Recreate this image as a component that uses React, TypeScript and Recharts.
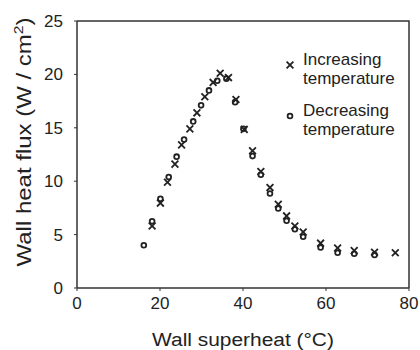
import { Label, Legend, Scatter, ScatterChart, XAxis, YAxis } from 'recharts';

const FONT = '"Liberation Sans", Arial, Helvetica, sans-serif';
const INK = '#222';

// wall superheat (°C) / wall heat flux (W/cm2)
const incX = [18.1, 20.1, 21.8, 23.6, 25.2, 27.2, 28.9, 30.8, 32.8, 34.5, 36.5, 38.3, 40.3, 42.3, 44.3, 46.5, 48.5, 50.5, 52.5, 54.5, 58.7, 62.8, 66.8, 71.7, 76.7];
const incY = [5.8, 7.95, 9.9, 11.6, 13.4, 14.9, 16.4, 17.9, 19.25, 20.1, 19.7, 17.65, 14.85, 12.85, 10.9, 9.4, 7.85, 6.75, 5.8, 5.25, 4.2, 3.75, 3.5, 3.35, 3.3];

const decX = [16.1, 18.1, 20.1, 22.1, 24.0, 25.8, 28.0, 29.9, 31.8, 33.8, 36.0, 38.1, 40.1, 42.3, 44.3, 46.5, 48.5, 50.5, 52.5, 54.5, 58.7, 62.8, 66.8, 71.7];
const decY = [4.0, 6.25, 8.35, 10.4, 12.3, 13.9, 15.6, 17.1, 18.5, 19.4, 19.6, 17.4, 14.9, 12.35, 10.6, 8.85, 7.45, 6.3, 5.5, 4.8, 3.8, 3.3, 3.2, 3.1];

const xTicks = [0, 20, 40, 60, 80];
const yTicks = [0, 5, 10, 15, 20, 25];
const legendLines = [
  ['Increasing', 'temperature'],
  ['Decreasing', 'temperature'],
];

const incData = incX.map((x, i) => ({ x, y: incY[i] }));
const decData = decX.map((x, i) => ({ x, y: decY[i] }));

// legend box sits at (280, 44) in chart coords; plot box is 77..409 x 21..288
const LEG_LEFT = 280;
const LEG_TOP = 44;

function CrossMark({ cx, cy }: { cx?: number; cy?: number }) {
  if (cx == null || cy == null) return null;
  const r = 3.4;
  return (
    <path
      d={`M${cx - r},${cy - r}L${cx + r},${cy + r}M${cx - r},${cy + r}L${cx + r},${cy - r}`}
      stroke={INK}
      strokeWidth={1.8}
      fill="none"
    />
  );
}

function RingMark({ cx, cy }: { cx?: number; cy?: number }) {
  if (cx == null || cy == null) return null;
  return <circle cx={cx} cy={cy} r={2.4} fill="none" stroke={INK} strokeWidth={1.8} />;
}

function LegendBox() {
  const l = 77 - LEG_LEFT;
  const r = 409 - LEG_LEFT;
  const t = 21 - LEG_TOP;
  const b = 288 - LEG_TOP;
  return (
    <svg width={140} height={100} style={{ display: 'block', overflow: 'visible' }}>
      {/* top and right edges of the plot box */}
      <polyline points={`${l},${t} ${r},${t} ${r},${b}`} fill="none" stroke="#333" strokeWidth={1.5} />
      {legendLines.map((lines, i) => {
        const base = 21 + i * 51;
        return (
          <g key={i}>
            {i === 0 ? <CrossMark cx={10} cy={base} /> : <RingMark cx={10} cy={base} />}
            <text x={23} y={base} fontSize={17} fontFamily={FONT} fill={INK}>
              {lines[0]}
            </text>
            <text x={23} y={base + 19} fontSize={17} fontFamily={FONT} fill={INK}>
              {lines[1]}
            </text>
          </g>
        );
      })}
    </svg>
  );
}

function XTitle(props: any) {
  const vb = props.viewBox || {};
  const cx = vb.x + vb.width / 2;
  const y = vb.y + 58;
  return (
    <text
      transform={`translate(${cx},${y}) scale(1.1,1)`}
      textAnchor="middle"
      fontSize={19}
      fontFamily={FONT}
      fill={INK}
    >
      Wall superheat (°C)
    </text>
  );
}

function YTitle() {
  return (
    <text
      transform="translate(31,142) rotate(-90) scale(1.2,1)"
      textAnchor="middle"
      fontSize={20}
      fontFamily={FONT}
      fill={INK}
    >
      Wall heat flux (W / cm
      <tspan dy={-8} fontSize={13}>2</tspan>
      <tspan dy={8}>)</tspan>
    </text>
  );
}

export default function App() {
  const tick = { fill: INK, fontSize: 17, fontFamily: FONT };
  const frame = { stroke: '#333', strokeWidth: 1.5 };
  return (
    <div style={{ position: 'absolute', left: 0, top: 0, width: 420, height: 350, background: '#fff' }}>
      <ScatterChart width={420} height={350} margin={{ top: 21, right: 11, bottom: 0, left: 0 }}>
        <XAxis
          type="number"
          dataKey="x"
          domain={[0, 80]}
          ticks={xTicks}
          interval={0}
          height={62}
          tick={tick}
          tickSize={3}
          tickMargin={6}
          axisLine={frame}
          tickLine={{ stroke: '#333' }}
        >
          <Label content={<XTitle />} />
        </XAxis>
        <YAxis
          type="number"
          dataKey="y"
          domain={[0, 25]}
          ticks={yTicks}
          interval={0}
          width={77}
          tick={tick}
          tickSize={3}
          tickMargin={11}
          axisLine={frame}
          tickLine={{ stroke: '#333' }}
        >
          <Label content={<YTitle />} />
        </YAxis>
        <Legend
          layout="horizontal"
          verticalAlign="middle"
          align="center"
          content={<LegendBox />}
          wrapperStyle={{ left: LEG_LEFT, top: LEG_TOP, width: 140, height: 100 }}
        />
        <Scatter name="Increasing temperature" data={incData} shape={<CrossMark />} isAnimationActive={false} />
        <Scatter name="Decreasing temperature" data={decData} shape={<RingMark />} isAnimationActive={false} />
      </ScatterChart>
    </div>
  );
}
